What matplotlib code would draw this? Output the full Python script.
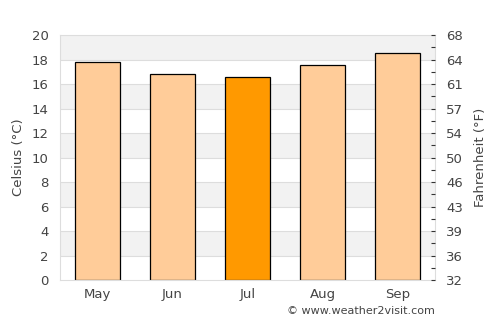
import matplotlib
matplotlib.use("Agg")
import matplotlib.pyplot as plt
import numpy as np

months = ["May", "Jun", "Jul", "Aug", "Sep"]
celsius = [17.8, 16.8, 16.6, 17.6, 18.5]
highlight = "Jul"

f_ticks_c = np.arange(0, 21, 2)
f_labels = [f"{round(c * 9 / 5 + 32)}" for c in f_ticks_c]

TEXT = "#444444"
GRID = "#dddddd"

fig = plt.figure(figsize=(5, 3.25), dpi=100)
ax = fig.add_axes([0.12, 0.138, 0.75, 0.754])

# alternating background bands
for lo in range(0, 20, 2):
    if (lo // 2) % 2 == 1:
        ax.axhspan(lo, lo + 2, color="#f2f2f2", zorder=0, linewidth=0)
for yv in range(2, 20, 2):
    ax.axhline(yv, color=GRID, linewidth=0.8, zorder=0.5)

x = np.arange(len(months))
colors = ["#ff9900" if m == highlight else "#ffcc99" for m in months]
ax.bar(x, celsius, width=0.6, color=colors, edgecolor="black", linewidth=0.9, zorder=2)

ax.set_xlim(-0.5, len(months) - 0.5)
ax.set_ylim(0, 20)
ax.set_yticks(np.arange(0, 21, 2))
ax.set_xticks(x)
ax.set_xticklabels(months)
ax.tick_params(axis="both", length=0, labelsize=9.5, colors=TEXT, pad=6)
ax.tick_params(axis="y", pad=8)
ax.set_ylabel("Celsius (°C)", color=TEXT, fontsize=9.5, labelpad=5)
for s in ax.spines.values():
    s.set_color(GRID)

ax2 = ax.twinx()
ax2.set_ylim(0, 20)
ax2.set_yticks(f_ticks_c)
ax2.set_yticklabels(f_labels)
ax2.set_yticks(np.arange(1, 20, 2), minor=True)
ax2.tick_params(axis="y", which="both", length=3, width=0.8, color="#333333",
                direction="in", pad=8, labelsize=9.5, labelcolor=TEXT)
ax2.set_ylabel("Fahrenheit (°F)", color=TEXT, fontsize=9.5, labelpad=8)
for s in ax2.spines.values():
    s.set_visible(False)

fig.text(0.87, 0.027, "© www.weather2visit.com", ha="right", va="bottom",
         fontsize=8, color=TEXT)

fig.savefig("out.png", dpi=100)
